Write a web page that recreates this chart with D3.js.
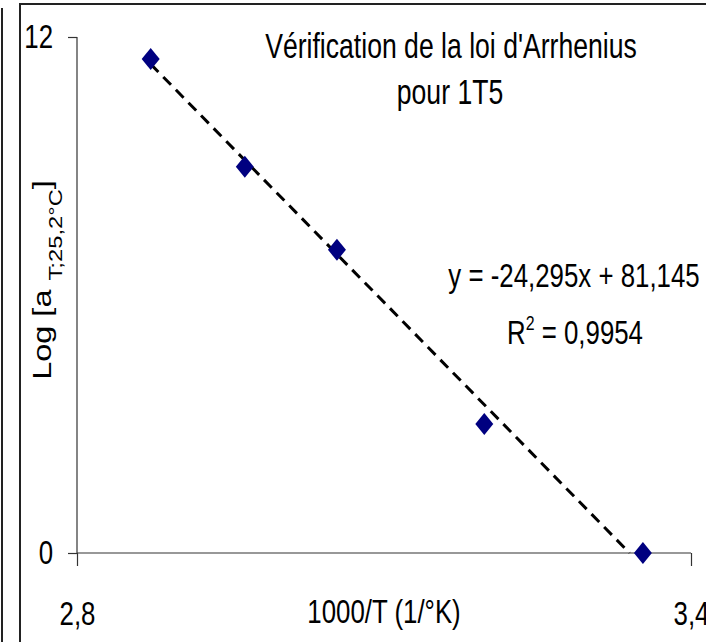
<!DOCTYPE html>
<html lang="fr">
<head>
    <meta charset="UTF-8">
    <title>Vérification de la loi d'Arrhenius</title>
    <script src="https://d3js.org/d3.v7.min.js"></script>
    <style>
        body { margin: 0; background: #fff; }
        text { font-family: "Liberation Sans", Arial, sans-serif; fill: #000; }
    </style>
</head>
<body>
    <svg id="chart" width="706" height="642"></svg>
    <script>
        // points mesurés (1000/T, log a)
        const invT = [2.872, 2.964, 3.054, 3.198, 3.353];
        const logA = [11.49, 8.98, 7.05, 3.0, 0.0];
        // droite de régression affichée
        const slope = -24.295;
        const intercept = 81.145;
        const r2Label = "0,9954";
        const xTicks = [2.8, 3.4];
        const yTicks = [0, 12];

        const NARROW = 0.76; // police étroite simulée
        const svg = d3.select("#chart");

        // cadres
        svg.append("line").attr("x1", 2).attr("y1", 8).attr("x2", 2).attr("y2", 642)
            .attr("stroke", "#222").attr("stroke-width", 2);
        svg.append("path").attr("d", "M20,642 V4 H706")
            .attr("fill", "none").attr("stroke", "#222").attr("stroke-width", 2);

        let x = d3.scaleLinear().domain([2.8, 3.4]).range([77, 691]);
        let y = d3.scaleLinear().domain([0, 12]).range([553, 37]);
        const fmt = d => d3.format(".1f")(d).replace(".", ",");

        function narrowText(cx, cy, size) {
            return svg.append("text")
                .attr("transform", `translate(${cx},${cy}) scale(${NARROW},1)`)
                .attr("text-anchor", "middle")
                .attr("font-size", size);
        }

        // axe X
        let gx = svg.append("g")
            .attr("transform", `translate(0,${y(0)})`)
            .call(d3.axisBottom(x).tickValues(xTicks).tickSize(13).tickPadding(35).tickFormat(fmt));
        gx.select(".domain").attr("d", `M${x(2.8)},0H${x(3.4)}`);
        gx.selectAll(".tick text").attr("transform", `scale(${NARROW},1)`);

        // axe Y
        let gy = svg.append("g")
            .attr("transform", `translate(${x(2.8)},0)`)
            .call(d3.axisLeft(y).tickValues(yTicks).tickSize(9).tickPadding(15).tickFormat(d3.format("d")));
        gy.select(".domain").attr("d", `M0,${y(12)}V${y(0)}`);
        gy.selectAll(".tick text")
            .attr("x", -24 / NARROW)
            .attr("transform", `scale(${NARROW},1)`);

        svg.selectAll(".domain, .tick line").attr("stroke", "#333").attr("stroke-width", 1.2);
        svg.selectAll(".tick text").attr("font-size", 34).attr("font-family", "'Liberation Sans', Arial, sans-serif").attr("fill", "#000");

        // droite de tendance (limitée à y >= 0)
        const x0 = d3.min(invT);
        const x1 = Math.min(d3.max(invT), -intercept / slope);
        svg.append("line")
            .attr("x1", x(x0)).attr("y1", y(slope * x0 + intercept))
            .attr("x2", x(x1)).attr("y2", y(slope * x1 + intercept))
            .attr("stroke", "#000").attr("stroke-width", 3)
            .attr("stroke-dasharray", "11,7");

        // marqueurs losange
        svg.selectAll(".pt")
            .data(invT.map((v, i) => [v, logA[i]]))
            .enter().append("path")
            .attr("class", "pt")
            .attr("d", d => {
                const cx = x(d[0]), cy = y(d[1]);
                return `M${cx},${cy - 11}L${cx + 9},${cy}L${cx},${cy + 11}L${cx - 9},${cy}Z`;
            })
            .attr("fill", "#000080");

        // titre
        narrowText(451, 58, 35).text("Vérification de la loi d'Arrhenius");
        narrowText(450, 104, 35).text("pour 1T5");

        // titre axe X
        narrowText((x(2.8) + x(3.4)) / 2, 623, 34).text("1000/T (1/°K)");

        // titre axe Y
        let yl = svg.append("text")
            .attr("transform", "translate(51,280) rotate(-90) scale(1.25,1)")
            .attr("text-anchor", "middle")
            .attr("font-size", 26);
        yl.append("tspan").text("Log [a ");
        yl.append("tspan").attr("font-size", 19).attr("dy", 11).text("T;25,2°C");
        yl.append("tspan").attr("dy", -11).text("]");

        // équation
        narrowText(574, 287, 34).text(`y = ${fmt3(slope)}x + ${fmt3(intercept)}`);
        let r2 = narrowText(575, 344, 34);
        r2.append("tspan").text("R");
        r2.append("tspan").attr("font-size", 21).attr("dy", -14).text("2");
        r2.append("tspan").attr("dy", 14).text(" = " + r2Label);

        function fmt3(v) { return d3.format(".3f")(v).replace(".", ",").replace("−", "-"); }
    </script>
</body>
</html>
